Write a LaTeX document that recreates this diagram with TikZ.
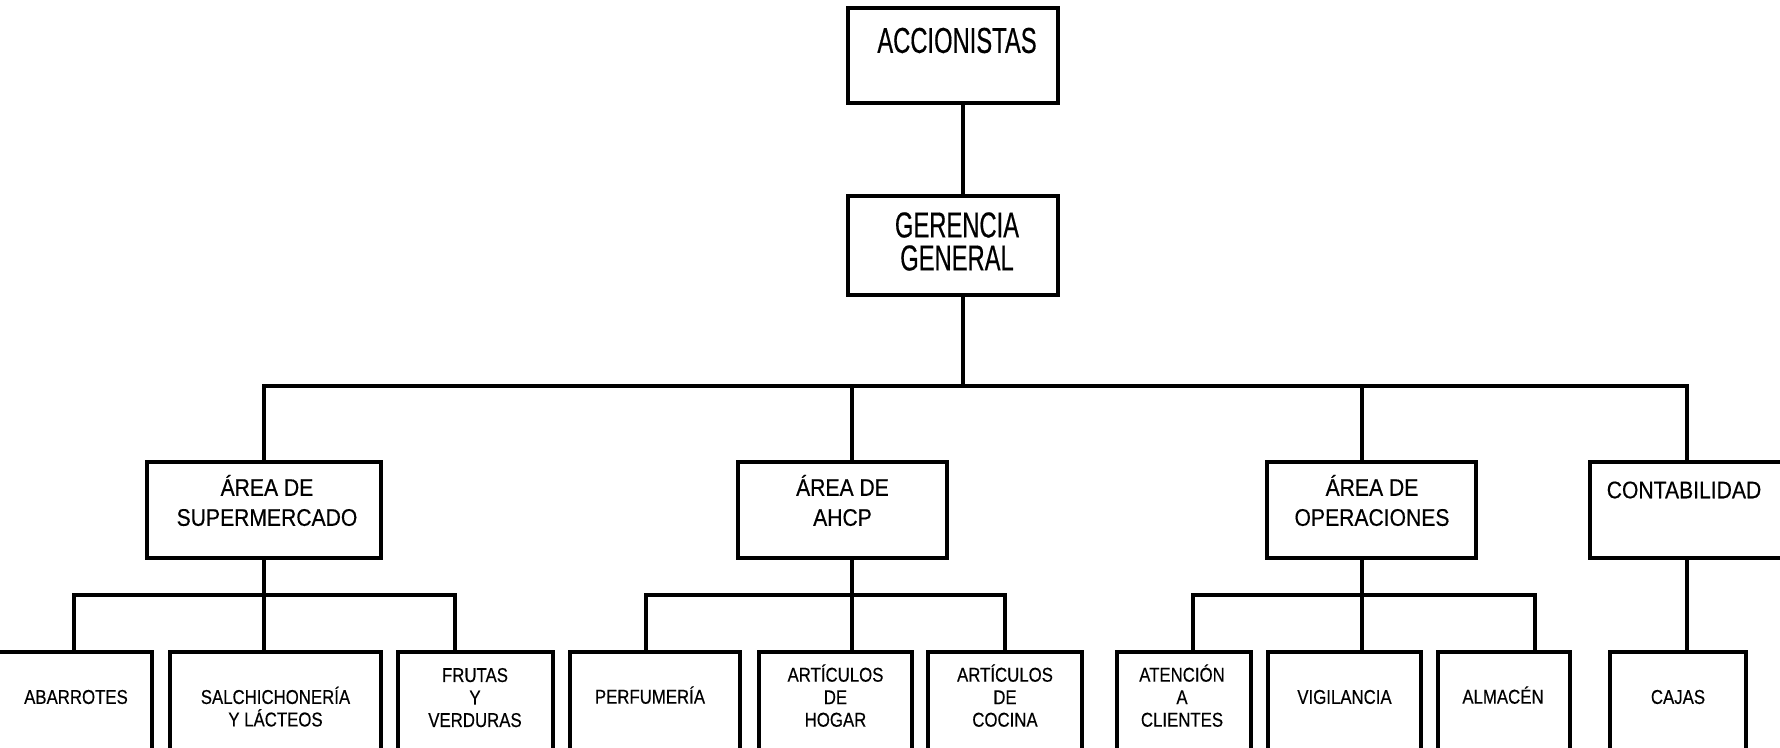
\documentclass[tikz,border=0pt]{standalone}
\usepackage{fontspec}
\setmainfont{Liberation Sans}
\newfontfamily\fuentea{Liberation Sans}[FakeStretch=0.66,FakeBold=0.4]
\newfontfamily\fuenteb{Liberation Sans}[FakeStretch=0.88,FakeBold=0.4]
\newfontfamily\fuentec{Liberation Sans}[FakeStretch=0.84,FakeBold=0.4]
\usepackage{tikz}
\usetikzlibrary{positioning}

\begin{document}
\begin{tikzpicture}[x=1pt,y=-1pt,line width=4pt]
    \tikzstyle{caja}=[draw,anchor=north west,inner sep=0pt,outer sep=0pt]
    \tikzstyle{txtuno}=[align=center,inner sep=0pt,font=\fuentea\fontsize{36}{33}\selectfont]
    \tikzstyle{txtdos}=[align=center,inner sep=0pt,font=\fuenteb\fontsize{24}{30}\selectfont]
    \tikzstyle{txttres}=[align=center,inner sep=0pt,font=\fuentec\fontsize{20}{22.5}\selectfont]
    \useasboundingbox (0,0) rectangle (1780,747);
    \clip (0,0) rectangle (1780,747);

    \node [caja,minimum width=210pt,minimum height=95pt] (acc) at (848,8) {};
    \node [caja,minimum width=210pt,minimum height=99pt] (ger) at (848,196) {};

    \node [caja,minimum width=234pt,minimum height=96pt] (sup) at (147,462) {};
    \node [caja,minimum width=209pt,minimum height=96pt] (ahcp) at (738,462) {};
    \node [caja,minimum width=209pt,minimum height=96pt] (ope) at (1267,462) {};
    \node [caja,minimum width=205pt,minimum height=96pt] (cont) at (1590,462) {};

    \node [caja,minimum width=162pt,minimum height=110pt] (abar) at (-10,652) {};
    \node [caja,minimum width=211pt,minimum height=110pt] (salch) at (170,652) {};
    \node [caja,minimum width=155pt,minimum height=110pt] (frut) at (398,652) {};
    \node [caja,minimum width=170pt,minimum height=110pt] (perf) at (570,652) {};
    \node [caja,minimum width=153pt,minimum height=110pt] (hogar) at (759,652) {};
    \node [caja,minimum width=154pt,minimum height=110pt] (cocina) at (928,652) {};
    \node [caja,minimum width=134pt,minimum height=110pt] (aten) at (1117,652) {};
    \node [caja,minimum width=153pt,minimum height=110pt] (vig) at (1268,652) {};
    \node [caja,minimum width=132pt,minimum height=110pt] (alm) at (1438,652) {};
    \node [caja,minimum width=136pt,minimum height=110pt] (cajas) at (1610,652) {};

    \node [txtuno] (acc-t) at (957,40.5) {ACCIONISTAS};
    \node [txtuno] (ger-t) at (957,241.5) {GERENCIA\\GENERAL};
    \node [txtdos] (sup-t) at (267,500.5) {ÁREA DE\\SUPERMERCADO};
    \node [txtdos] (ahcp-t) at (842.5,500.5) {ÁREA DE\\AHCP};
    \node [txtdos] (ope-t) at (1372,500.5) {ÁREA DE\\OPERACIONES};
    \node [txtdos] (cont-t) at (1684,490) {CONTABILIDAD};
    \node [txttres] (abar-t) at (76,697) {ABARROTES};
    \node [txttres] (salch-t) at (275.5,706.6) {SALCHICHONERÍA\\Y LÁCTEOS};
    \node [txttres] (frut-t) at (475,697.6) {FRUTAS\\Y\\VERDURAS};
    \node [txttres] (perf-t) at (650,695.1) {PERFUMERÍA};
    \node [txttres] (hogar-t) at (835.5,695.6) {ARTÍCULOS\\DE\\HOGAR};
    \node [txttres] (cocina-t) at (1005,695.6) {ARTÍCULOS\\DE\\COCINA};
    \node [txttres] (aten-t) at (1182,695.6) {ATENCIÓN\\A\\CLIENTES};
    \node [txttres] (vig-t) at (1344.5,697) {VIGILANCIA};
    \node [txttres] (alm-t) at (1503,695.1) {ALMACÉN};
    \node [txttres] (cajas-t) at (1678,697) {CAJAS};

    \coordinate (bus) at (0,386);
    \coordinate (ramal) at (0,595);
    \draw ([xshift=10pt]acc.south) -- ([xshift=10pt]ger.north);
    \draw ([xshift=10pt]ger.south) -- ([xshift=10pt]ger.south |- bus);
    \draw (sup.north) -- (sup.north |- bus) -- ([xshift=-5.5pt]cont.north |- bus) -- ([xshift=-5.5pt]cont.north);
    \draw ([xshift=9.5pt]ahcp.north) -- ([xshift=9.5pt]ahcp.north |- bus);
    \draw ([xshift=-9.5pt]ope.north) -- ([xshift=-9.5pt]ope.north |- bus);

    \draw (sup.south) -- (sup.south |- salch.north);
    \draw ([xshift=3pt]abar.north) -- ([xshift=3pt]abar.north |- ramal) -- ([xshift=-20.5pt]frut.north |- ramal) -- ([xshift=-20.5pt]frut.north);
    \draw ([xshift=9.5pt]ahcp.south) -- ([xshift=9.5pt]ahcp.south |- hogar.north);
    \draw ([xshift=-9pt]perf.north) -- ([xshift=-9pt]perf.north |- ramal) -- (cocina.north |- ramal) -- (cocina.north);
    \draw ([xshift=-9.5pt]ope.south) -- ([xshift=-9.5pt]ope.south |- vig.north);
    \draw ([xshift=9pt]aten.north) -- ([xshift=9pt]aten.north |- ramal) -- ([xshift=31pt]alm.north |- ramal) -- ([xshift=31pt]alm.north);
    \draw ([xshift=-5.5pt]cont.south) -- ([xshift=-5.5pt]cont.south |- cajas.north);
\end{tikzpicture}
\end{document}
